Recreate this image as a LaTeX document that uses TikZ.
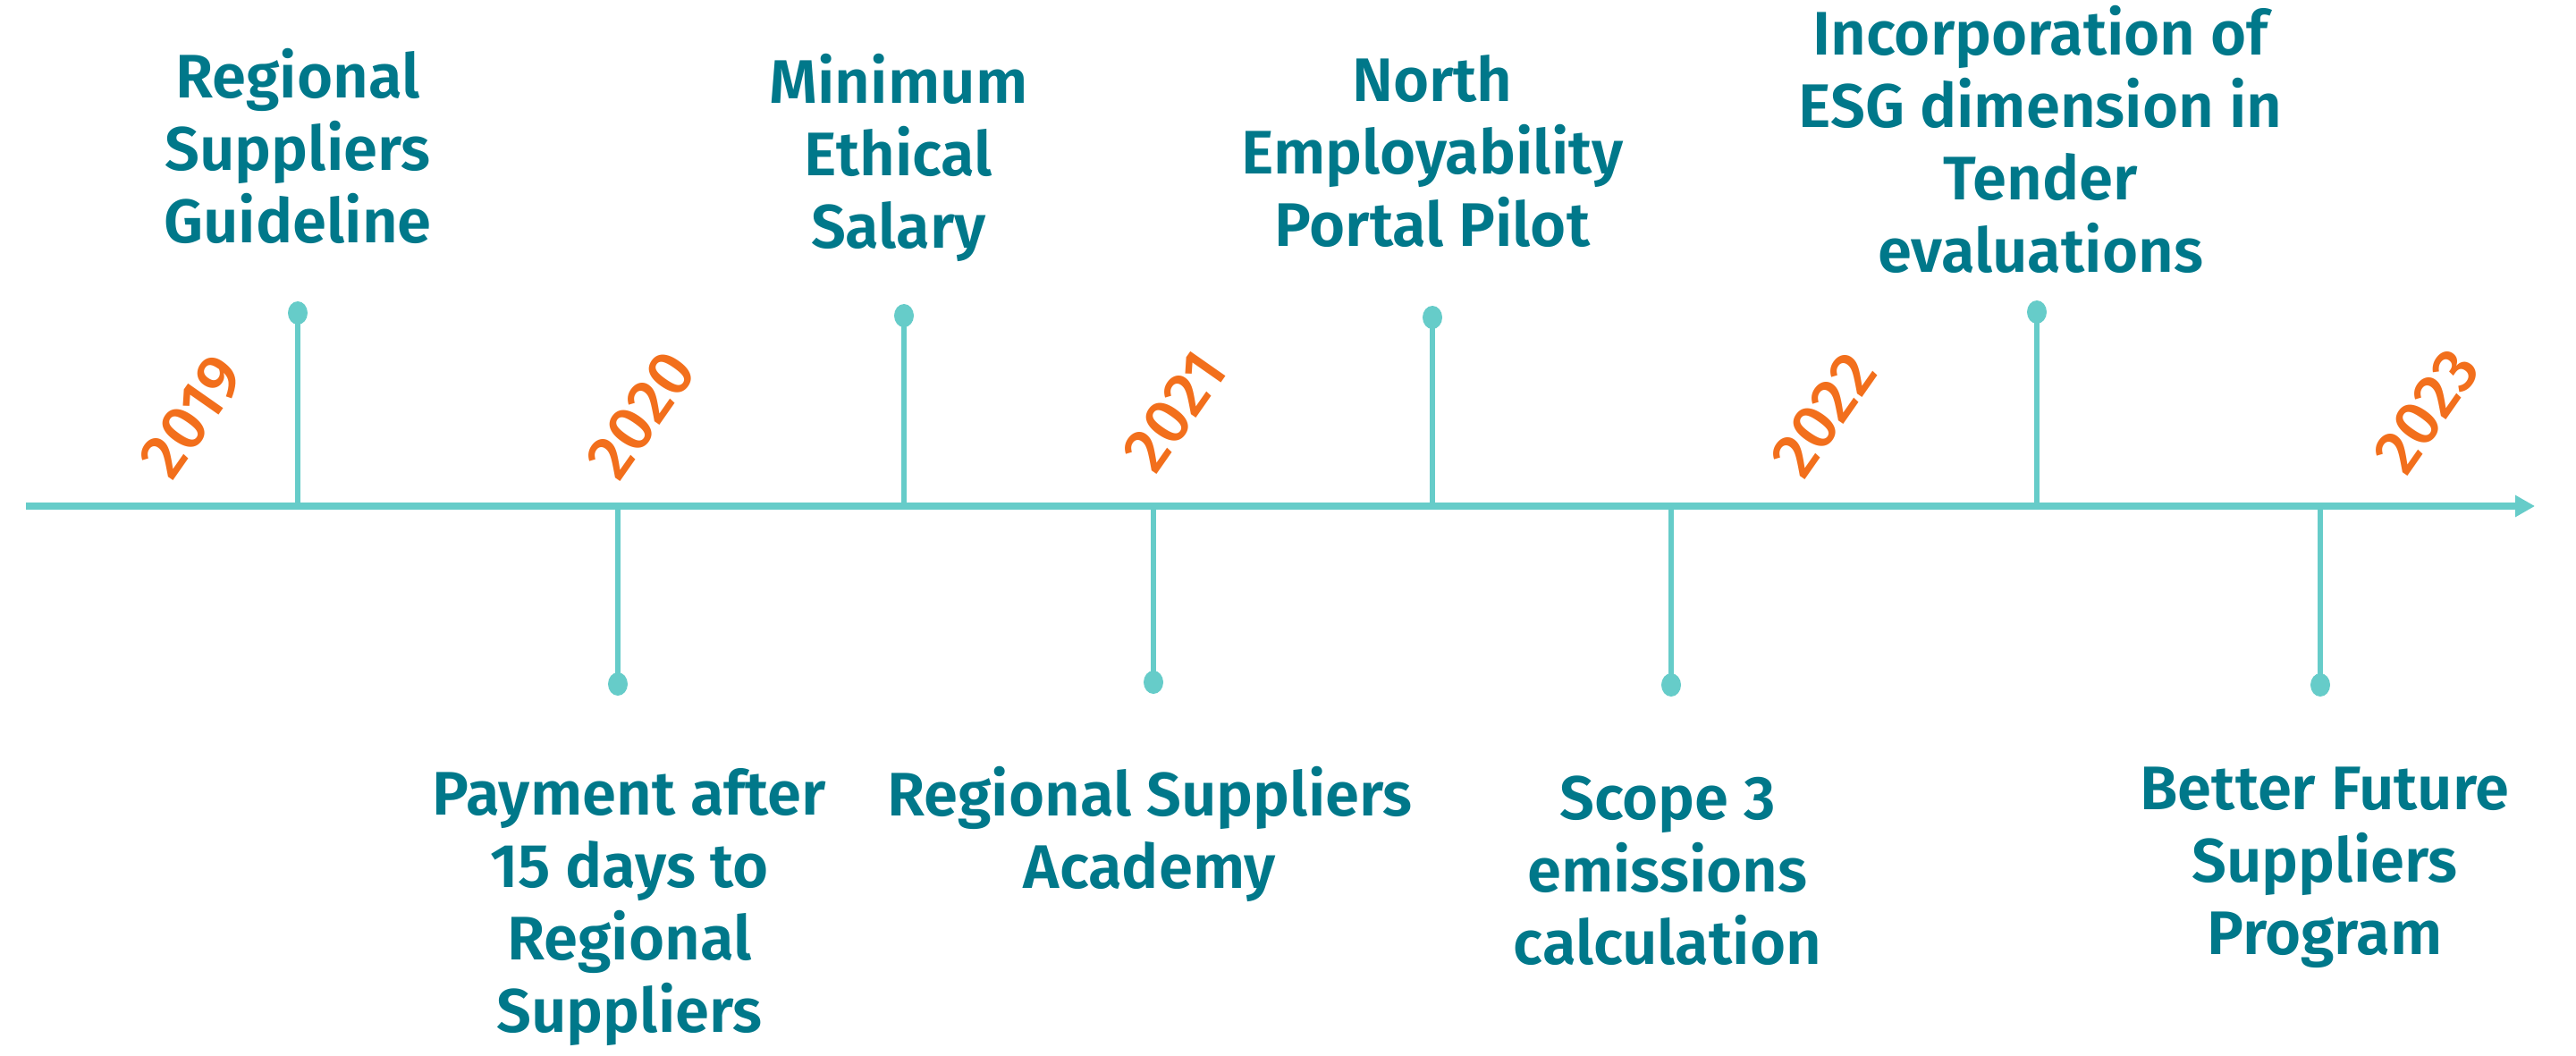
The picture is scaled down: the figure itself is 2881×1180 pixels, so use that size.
\documentclass[tikz,border=0pt]{standalone}
\usepackage{fontspec}
\setmainfont{Fira Sans}
\IfFontExistsTF{Fira Sans SemiBold}{\newfontfamily\lblfont{Fira Sans SemiBold}}{\newfontfamily\lblfont{Fira Sans}[UprightFont=*-Bold]}
\IfFontExistsTF{Fira Sans Medium}{\newfontfamily\yrfont{Fira Sans Medium}}{\newfontfamily\yrfont{Fira Sans}}
\usetikzlibrary{arrows.meta,shapes.geometric}
\definecolor{tealtxt}{HTML}{00788A}
\definecolor{linec}{HTML}{66CCC9}
\definecolor{orng}{HTML}{F26F1C}
\begin{document}
\begin{tikzpicture}[x=0.25pt,y=-0.25pt,
  lbl/.style={font=\lblfont\fontsize{17.2pt}{20.25pt}\selectfont, text=tealtxt, align=center, inner sep=0pt},
  yr/.style={font=\yrfont\fontsize{17.8pt}{20pt}\selectfont, text=orng, rotate=55, inner sep=0pt},
  axisline/.style={draw=linec, line width=2pt, -{Triangle[length=5.5pt,width=5.8pt]}},
  stem/.style={draw=linec, line width=1.4pt},
  dot/.style={ellipse, fill=linec, inner sep=0pt, minimum width=5.5pt, minimum height=6.5pt}]
\useasboundingbox (0,0) rectangle (2881,1180);
\coordinate (ax0) at (29,566);
\coordinate (ax1) at (2835,566);
% dots
\node[dot] (t1) at (333,350) {};
\node[dot] (t2) at (1011,353) {};
\node[dot] (t3) at (1602,355) {};
\node[dot] (t4) at (2278,349) {};
\node[dot] (b1) at (691,765) {};
\node[dot] (b2) at (1290,763) {};
\node[dot] (b3) at (1869,766) {};
\node[dot] (b4) at (2595,766) {};
\foreach \d in {t1,t2,t3,t4,b1,b2,b3,b4}{
  \draw[stem] (\d.center) -- (\d.center |- ax0);
}
\draw[axisline] (ax0) -- (ax1);
% years
\node[yr] (y19) at (215,466) {2019};
\node[yr] (y20) at (717,464) {2020};
\node[yr] (y21) at (1314,460) {2021};
\node[yr] (y22) at (2040,464) {2022};
\node[yr] (y23) at (2714,460) {2023};
% labels
\node[lbl] (l1) at (333,163) {Regional\\Suppliers\\Guideline};
\node[lbl] (l2) at (1005,176) {Minimum\\Ethical\\Salary};
\node[lbl] (l3) at (1602,169) {North\\Employability\\Portal Pilot};
\node[lbl] (l4) at (2282,156) {Incorporation of\\ESG dimension in\\Tender\\evaluations};
\node[lbl] (l5) at (704,1015) {Payment after\\15 days to\\Regional\\Suppliers};
\node[lbl] (l6) at (1286,933) {Regional Suppliers\\Academy};
\node[lbl] (l7) at (1865,974) {Scope 3\\emissions\\calculation};
\node[lbl] (l8) at (2600,970) {Better Future\\Suppliers\\Program};
\end{tikzpicture}
\end{document}
